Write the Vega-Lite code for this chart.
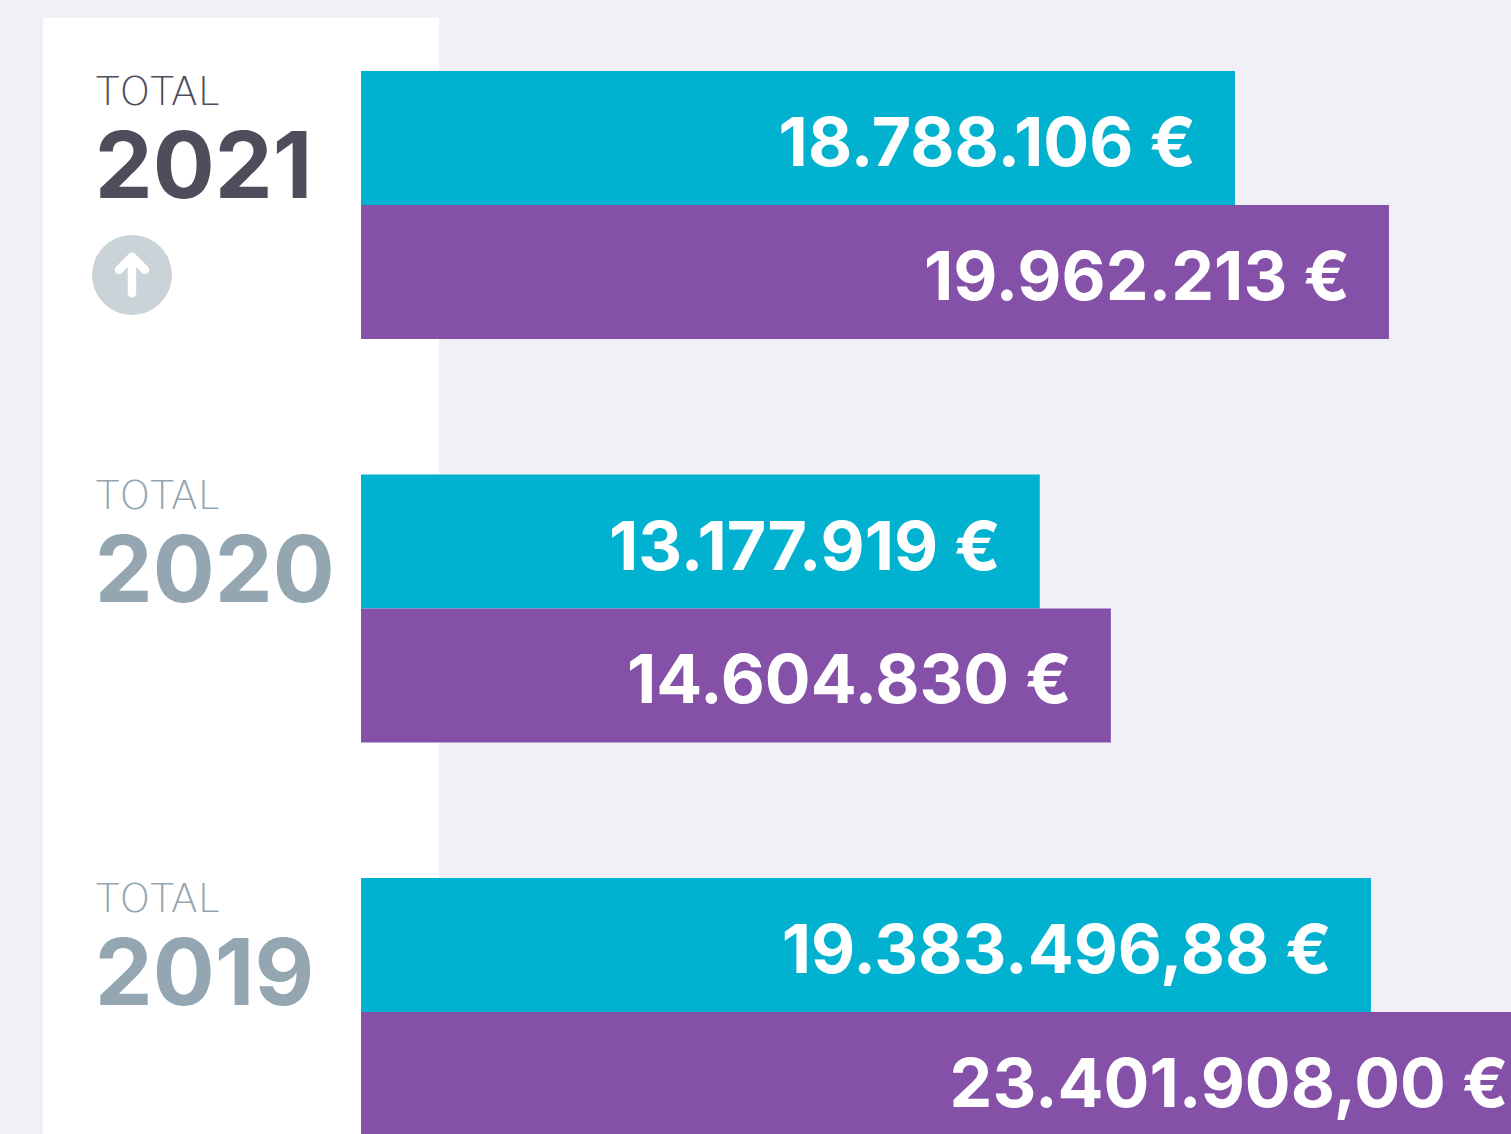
{
"$schema":"https://vega.github.io/schema/vega-lite/v6.json",
"width":1511,"height":1134,"autosize":{"type":"none"},"padding":0,
"background":"#f0f0f6",
"config":{"view":{"stroke":null}},
"datasets":{"bars":[
{"year":"2021","series":"serie1","length":16.97,"label":"18.788.106 €"},
{"year":"2021","series":"serie2","length":19.96,"label":"19.962.213 €"},
{"year":"2020","series":"serie1","length":13.18,"label":"13.177.919 €"},
{"year":"2020","series":"serie2","length":14.56,"label":"14.604.830 €"},
{"year":"2019","series":"serie1","length":19.61,"label":"19.383.496,88 €"},
{"year":"2019","series":"serie2","length":23.04,"label":"23.401.908,00 €"}],
"years":[{"year":"2021","total":"TOTAL","current":"yes"},{"year":"2020","total":"TOTAL","current":"no"},{"year":"2019","total":"TOTAL","current":"no"}]},
"resolve":{"scale":{"y":"independent","color":"independent"}},
"layer":[
{"data":{"values":[{"panel":"white"}]},"mark":{"type":"rect","fill":"#ffffff"},
 "encoding":{"x":{"datum":-6.175,"type":"quantitative","axis":null,"scale":{"domain":[-7.0097,22.33],"range":[0,1511]}},"x2":{"datum":1.515},
 "y":{"datum":18,"type":"quantitative","axis":null,"scale":{"domain":[0,1134],"range":[0,1134]}},"y2":{"datum":1134}}},
{"data":{"name":"bars"},"mark":{"type":"bar","clip":true},
 "encoding":{"x":{"field":"length","type":"quantitative","axis":null,"scale":{"domain":[-7.0097,22.33],"range":[0,1511]}},"x2":{"datum":0},
 "y":{"field":"year","type":"nominal","axis":null,"scale":{"domain":["2021","2020","2019"],"range":[71,1146],"paddingInner":0.336,"paddingOuter":0}},
 "yOffset":{"field":"series","type":"nominal","scale":{"domain":["serie1","serie2"],"paddingInner":0,"paddingOuter":0}},
 "color":{"field":"series","type":"nominal","legend":null,"scale":{"domain":["serie1","serie2"],"range":["#01b2d0","#8550a7"]}}}},
{"data":{"name":"bars"},"mark":{"type":"text","align":"right","baseline":"alphabetic","dx":-39,"dy":28,"font":"Inter","fontWeight":700,"fontSize":68,"fill":"#ffffff"},
 "encoding":{"x":{"field":"length","type":"quantitative","axis":null,"scale":{"domain":[-7.0097,22.33],"range":[0,1511]}},
 "y":{"field":"year","type":"nominal","axis":null,"scale":{"domain":["2021","2020","2019"],"range":[71,1146],"paddingInner":0.336,"paddingOuter":0}},
 "yOffset":{"field":"series","type":"nominal","scale":{"domain":["serie1","serie2"],"paddingInner":0,"paddingOuter":0}},
 "text":{"field":"label"}}},
{"data":{"name":"years"},"mark":{"type":"text","align":"left","baseline":"alphabetic","dy":34,"font":"DejaVu Sans","fontWeight":200,"fontSize":39},
 "encoding":{"x":{"datum":-5.15,"type":"quantitative","axis":null,"scale":{"domain":[-7.0097,22.33],"range":[0,1511]}},
 "y":{"field":"year","type":"nominal","axis":null,"scale":{"type":"band","domain":["2021","2020","2019"],"range":[71,1146],"paddingInner":0.336,"paddingOuter":0},"bandPosition":0},
 "color":{"field":"current","type":"nominal","legend":null,"scale":{"domain":["yes","no"],"range":["#4f4c5c","#93a6b1"]}},
 "text":{"field":"total"}}},
{"data":{"name":"years"},"mark":{"type":"text","align":"left","baseline":"alphabetic","dy":127,"font":"Inter","fontWeight":700,"fontSize":92},
 "encoding":{"x":{"datum":-5.17,"type":"quantitative","axis":null,"scale":{"domain":[-7.0097,22.33],"range":[0,1511]}},
 "y":{"field":"year","type":"nominal","axis":null,"scale":{"type":"band","domain":["2021","2020","2019"],"range":[71,1146],"paddingInner":0.336,"paddingOuter":0},"bandPosition":0},
 "color":{"field":"current","type":"nominal","legend":null,"scale":{"domain":["yes","no"],"range":["#4f4c5c","#93a6b1"]}},
 "text":{"field":"year"}}},
{"data":{"values":[{"trend":"up"}]},"mark":{"type":"point","filled":true,"shape":"circle","size":6400,"fill":"#c9d3d8","stroke":null,"opacity":1},
 "encoding":{"x":{"datum":-4.447,"type":"quantitative","axis":null,"scale":{"domain":[-7.0097,22.33],"range":[0,1511]}},
 "y":{"datum":275,"type":"quantitative","axis":null,"scale":{"domain":[0,1134],"range":[0,1134]}}}},
{"data":{"values":[{"trend":"up"}]},"mark":{"type":"point","filled":false,"shape":"M0,-0.5L0,0.5M-0.356,-0.144L0,-0.5L0.356,-0.144","size":5329,"stroke":"#ffffff","strokeWidth":8.5,"strokeCap":"round","strokeJoin":"round","opacity":1},
 "encoding":{"x":{"datum":-4.447,"type":"quantitative","axis":null,"scale":{"domain":[-7.0097,22.33],"range":[0,1511]}},
 "y":{"datum":275,"type":"quantitative","axis":null,"scale":{"domain":[0,1134],"range":[0,1134]}}}}
]
}
